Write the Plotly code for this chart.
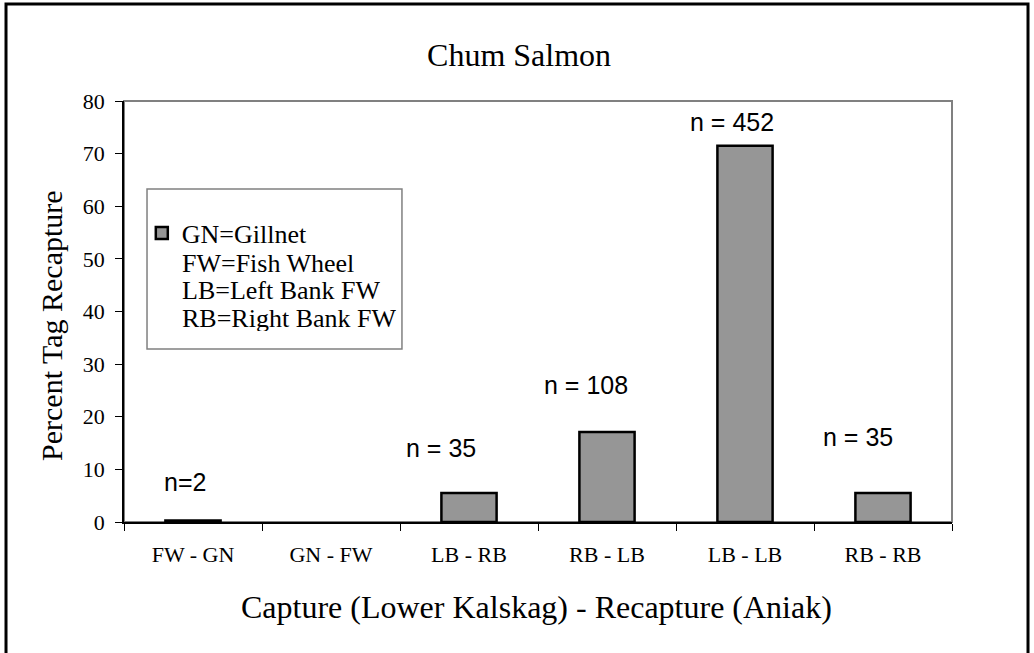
import plotly.graph_objects as go

# data
categories = ['FW - GN', 'GN - FW', 'LB - RB', 'RB - LB', 'LB - LB', 'RB - RB']
pct_recapture = [0.3, None, 5.5, 17.1, 71.5, 5.5]   # GN - FW: no recaptures
n_labels = ['n=2', '', 'n = 35', 'n = 108', 'n = 452', 'n = 35']
y_ticks = [0, 10, 20, 30, 40, 50, 60, 70, 80]
legend_lines = ['GN=Gillnet', 'FW=Fish Wheel', 'LB=Left Bank FW', 'RB=Right Bank FW']

SERIF = 'Liberation Serif'
SANS = 'Liberation Sans'

fig = go.Figure()

fig.add_trace(go.Bar(
    x=categories,
    y=pct_recapture,
    name=legend_lines[0],
    width=0.4,
    marker=dict(color='#969696', line=dict(color='black', width=2.5)),
    showlegend=True,
))

# n = ... labels (placed by hand like in the original)
label_pos = [(-8, 7.6), None, (-28, 14.1), (-21, 26.0), (-13, 76.0), (-25, 16.2)]
for cat, txt, pos in zip(categories, n_labels, label_pos):
    if not txt:
        continue
    fig.add_annotation(
        x=cat, y=pos[1], xref='x', yref='y', xshift=pos[0],
        xanchor='center', yanchor='middle',
        text=txt, showarrow=False,
        font=dict(family=SANS, size=25, color='black'),
    )

# legend text lines after the first one (tight line spacing, as in the original)
for txt, yy in zip(legend_lines[1:], [0.6152, 0.5511, 0.4846]):
    fig.add_annotation(
        x=0.0676, y=yy, xref='paper', yref='paper',
        xanchor='left', yanchor='middle', height=26, text=txt, showarrow=False,
        font=dict(family=SERIF, size=26, color='black'),
    )

# axis titles
fig.add_annotation(
    x=0.4976, y=-0.2019, xref='paper', yref='paper',
    xanchor='center', yanchor='middle',
    text='Capture (Lower Kalskag) - Recapture (Aniak)', showarrow=False,
    font=dict(family=SERIF, size=32, color='black'),
)
fig.add_annotation(
    x=-0.087, y=0.468, xref='paper', yref='paper', textangle=-90,
    xanchor='center', yanchor='middle',
    text='Percent Tag Recapture', showarrow=False,
    font=dict(family=SERIF, size=30, color='black'),
)

# plot area outline (gray top/right), legend box and outer frame
fig.add_shape(type='rect', xref='paper', yref='paper', x0=0, x1=1, y0=0, y1=1,
              line=dict(color='#808080', width=2), layer='below')
fig.add_shape(type='rect', xref='paper', yref='paper',
              x0=0.0278, x1=0.3357, y0=0.411, y1=0.791,
              line=dict(color='#808080', width=1.5), fillcolor='white', layer='below')
fig.add_shape(type='rect', xref='paper', yref='paper',
              x0=-0.1425, x1=1.0918, y0=-0.33, y1=1.2304,
              line=dict(color='black', width=3))

fig.update_layout(
    width=1034, height=653,
    margin=dict(l=124, r=82, t=101, b=131),
    paper_bgcolor='white', plot_bgcolor='white',
    title=dict(text='Chum Salmon', x=0.502, xanchor='center', y=0.9158, yanchor='middle',
               xref='container', yref='container',
               font=dict(family=SERIF, size=32, color='black')),
    font=dict(family=SERIF, color='black'),
    showlegend=True,
    legend=dict(x=0.0215, y=0.6865, xanchor='left', yanchor='middle',
                bgcolor='rgba(0,0,0,0)', borderwidth=0,
                font=dict(family=SERIF, size=26, color='black')),
    bargap=0.6,
)

fig.update_xaxes(
    type='category', range=[-0.5, 5.5],
    showline=True, linecolor='black', linewidth=1.5,
    ticks='outside', tickson='boundaries', ticklen=7, tickcolor='black', tickwidth=1,
    showgrid=False, zeroline=False,
    tickfont=dict(family=SERIF, size=22, color='black'),
    ticklabelstandoff=12,
)
fig.update_yaxes(
    range=[0, 80], tickvals=y_ticks,
    showline=True, linecolor='black', linewidth=1.5,
    ticks='outside', ticklen=7, tickcolor='black', tickwidth=1,
    showgrid=False, zeroline=False,
    tickfont=dict(family=SERIF, size=22, color='black'),
    ticklabelstandoff=6,
)

# drop the default 8px page margin so the chart sits at the window's corner
fig.write_html('out.html', config={'displayModeBar': False},
               post_script="document.body.style.margin = '0';")
